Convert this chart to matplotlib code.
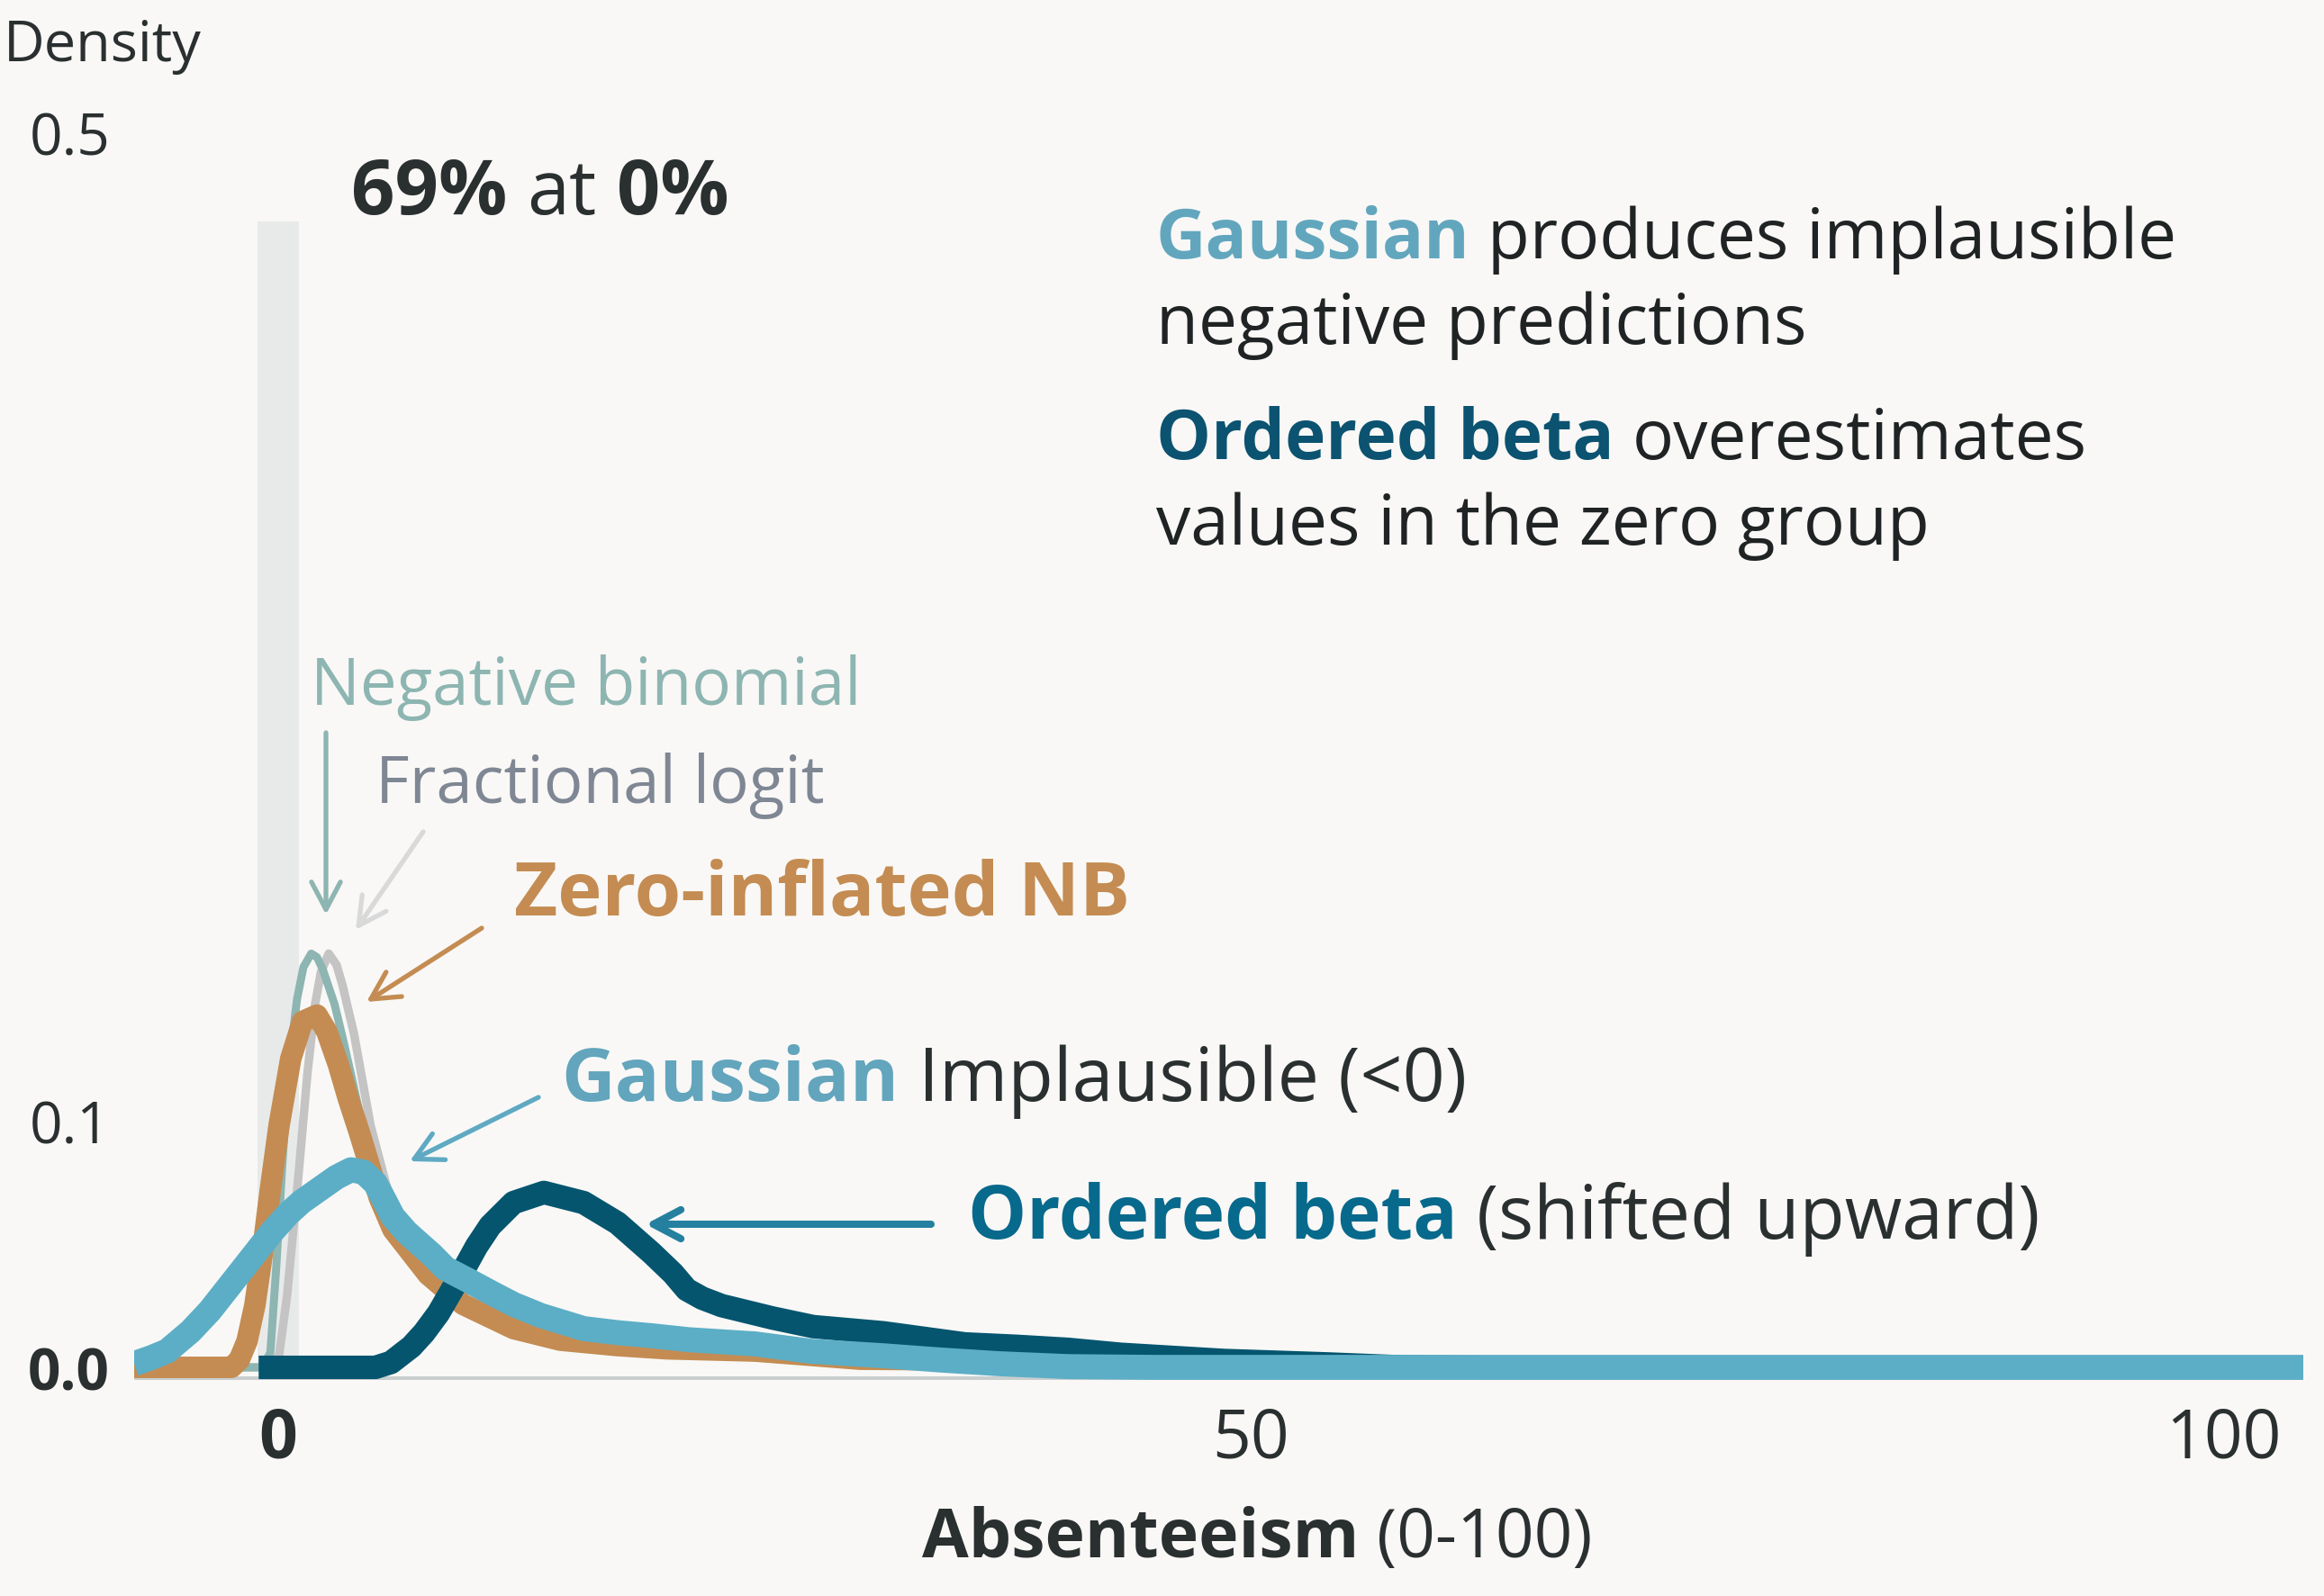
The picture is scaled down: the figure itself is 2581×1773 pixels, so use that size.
import matplotlib
matplotlib.use("Agg")
import matplotlib.pyplot as plt

# ---------------- data ----------------
gauss_x = [-7.4, -6.5, -5.7, -4.5, -3.5, -2.6, -1.8, -1.0, -0.3, 0.5, 1.2, 2.1, 3.0, 3.75, 4.4, 5.0, 5.4, 5.9,
           6.6, 7.9, 8.6, 9.7, 11.0, 12.1, 13.5, 15.7, 17.5, 19.2, 21.1, 24.5, 27.4, 31.1, 34.0, 37.0, 40.6, 45.0, 104.1]
gauss_y = [0.0015, 0.004, 0.0066, 0.0146, 0.023, 0.032, 0.040, 0.048, 0.055, 0.062, 0.067, 0.072, 0.077, 0.080,
           0.079, 0.0745, 0.0686, 0.061, 0.0547, 0.0456, 0.040, 0.0355, 0.030, 0.0255, 0.021, 0.0157, 0.014, 0.0128,
           0.0112, 0.0095, 0.0065, 0.0047, 0.003, 0.0015, 0.0003, 0.0, 0.0]

obeta_x = [-1.0, 5.0, 5.8, 6.85, 7.5, 8.24, 9.5, 10.2, 10.9, 12.1, 13.66, 15.7, 17.45, 19.2, 20.3, 21.0, 21.8,
           22.8, 25.4, 27.5, 31.1, 35.3, 38.0, 40.6, 43.3, 48.6, 53.9, 57.4, 62.0, 104.1]
obeta_y = [0.0, 0.0, 0.002, 0.0084, 0.014, 0.0219, 0.039, 0.049, 0.0573, 0.0667, 0.0708, 0.0667, 0.0584, 0.0463,
           0.038, 0.0315, 0.028, 0.025, 0.020, 0.0165, 0.014, 0.0095, 0.0085, 0.0073, 0.0053, 0.0028, 0.0014,
           0.0003, 0.0, 0.0]

zinb_x = [-7.4, -2.4, -2.0, -1.6, -1.2, -0.8, -0.4, 0.05, 0.65, 1.25, 2.0, 2.5, 3.1, 3.6, 4.2, 5.2, 5.9, 7.7,
          9.5, 12.1, 14.5, 17.45, 20.0, 24.5, 29.9, 35.0, 40.0, 45.0, 50.0, 55.0, 104.1]
zinb_y = [0.0, 0.0, 0.003, 0.0106, 0.025, 0.0467, 0.072, 0.098, 0.125, 0.140, 0.1426, 0.136, 0.1225, 0.109,
          0.0945, 0.0686, 0.0558, 0.0376, 0.0255, 0.0157, 0.011, 0.0088, 0.0075, 0.0066, 0.0033, 0.003, 0.002,
          0.001, 0.0003, 0.0, 0.0]

negbin_x = [-7.4, -0.8, -0.4, -0.1, 0.2, 0.45, 0.65, 0.97, 1.3, 1.7, 2.0, 2.3, 2.9, 3.3, 3.75, 4.3, 5.0, 5.6,
            6.25, 7.7, 9.7, 12.1, 14.8, 17.5, 21.0, 26.3, 35.0, 45.0, 55.0, 104.1]
negbin_y = [0.0, 0.0, 0.006, 0.04, 0.08, 0.11, 0.128, 0.149, 0.162, 0.1675, 0.166, 0.161, 0.147, 0.134, 0.1185,
            0.099, 0.0806, 0.064, 0.05, 0.035, 0.022, 0.013, 0.0098, 0.0075, 0.006, 0.003, 0.0022, 0.0008, 0.0, 0.0]

froglogit_x = [-7.4, -0.5, 0.05, 0.46, 1.06, 1.5, 1.9, 2.2, 2.6, 3.0, 3.3, 3.9, 4.75, 5.6, 6.5, 7.7, 9.7, 12.1,
               17.0, 24.0, 30.0, 40.0, 50.0, 60.0, 104.1]
froglogit_y = [0.0, 0.0, 0.005, 0.029, 0.079, 0.1185, 0.147, 0.160, 0.1675, 0.163, 0.155, 0.135, 0.098, 0.0726,
               0.055, 0.038, 0.024, 0.015, 0.009, 0.005, 0.003, 0.0015, 0.0005, 0.0, 0.0]

zero_bar_x = 0
zero_bar_top = 0.464

x_ticks = [0, 50, 100]
x_ticklabels = ["0", "50", "100"]
y_ticks = [0.0, 0.1, 0.5]
y_ticklabels = ["0.0", "0.1", "0.5"]

# ---------------- style ----------------
W, H, DPI = 2581, 1774, 200
BG = "#f9f8f6"
DARK = "#2a2f30"
INK = "#1f2323"
C_GAUSS = "#5caec6"
C_OBETA = "#05556f"
C_ZINB = "#c48c52"
C_NB = "#8db5b2"
C_FL = "#c4c4c4"

plt.rcParams["font.family"] = ["Open Sans", "DejaVu Sans"]

fig = plt.figure(figsize=(W / DPI, H / DPI), dpi=DPI, facecolor=BG)
ax = fig.add_axes([149 / W, 1 - 1534 / H, (2558 - 149) / W, (1534 - 93) / H])
ax.set_facecolor(BG)
ax.set_xlim(-7.4, 104.1)
ax.set_ylim(-0.0051, 0.520)
for s in ax.spines.values():
    s.set_visible(False)

ax.bar(zero_bar_x, zero_bar_top, width=2.1, bottom=0, color="#e8eaea", zorder=1)
ax.axhline(-0.0042, color="#c9cecf", lw=1.8, zorder=1.5)

common = dict(solid_capstyle="butt", solid_joinstyle="round")
ax.plot(froglogit_x, froglogit_y, color=C_FL, lw=3.4, zorder=2.0, **common)
ax.plot(negbin_x, negbin_y, color=C_NB, lw=3.2, zorder=2.1, **common)
ax.plot(zinb_x, zinb_y, color=C_ZINB, lw=8.6, zorder=2.2, **common)
ax.plot(obeta_x, obeta_y, color=C_OBETA, lw=9.4, zorder=2.3, **common)
ax.plot(gauss_x, gauss_y, color=C_GAUSS, lw=10.0, zorder=2.4, **common)

ax.set_xticks(x_ticks)
ax.set_xticklabels(x_ticklabels)
ax.set_yticks(y_ticks)
ax.set_yticklabels(y_ticklabels)
ax.tick_params(axis="x", length=0, pad=10.4, labelsize=27, labelcolor=DARK)
ax.tick_params(axis="y", length=0, pad=9.7, labelsize=23, labelcolor=DARK)
ax.get_xticklabels()[0].set_fontweight("bold")
ax.get_yticklabels()[0].set_fontweight("bold")

renderer = fig.canvas.get_renderer()


def fx(px):
    return px / W


def fy(py):
    return 1 - py / H


def space_width(size, weight):
    a = fig.text(0, 0, "xx", fontsize=size, fontweight=weight)
    b = fig.text(0, 0, "x x", fontsize=size, fontweight=weight)
    w = b.get_window_extent(renderer).width - a.get_window_extent(renderer).width
    a.remove(); b.remove()
    return w


def rich(x_px, y_px, parts, size):
    x = x_px
    for i, (txt, weight, color) in enumerate(parts):
        if i > 0:
            x += space_width(size, "normal")
        t = fig.text(fx(x), fy(y_px), txt, fontsize=size, fontweight=weight, color=color,
                     ha="left", va="baseline")
        x += t.get_window_extent(renderer).width
    return x


# axis titles
fig.text(fx(4), fy(68), "Density", fontsize=22.7, color=DARK, ha="left", va="baseline")
rich(1024, 1730, [("Absenteeism", "bold", DARK), ("(0-100)", "normal", DARK)], 27)

# top annotation
rich(390, 238, [("69%", "bold", DARK), ("at", "normal", DARK), ("0%", "bold", DARK)], 30.5)

# right-hand notes
rich(1284, 287, [("Gaussian", "bold", "#62a6be"), ("produces implausible", "normal", INK)], 27.6)
rich(1284, 382, [("negative predictions", "normal", INK)], 27.6)
rich(1284, 510, [("Ordered beta", "bold", "#0b5370"), ("overestimates", "normal", INK)], 27.6)
rich(1284, 605, [("values in the zero group", "normal", INK)], 27.6)

# series labels
rich(345, 783, [("Negative binomial", "normal", "#8db5b1")], 26.2)
rich(417, 892, [("Fractional logit", "normal", "#7f8794")], 26.2)
rich(571, 1017, [("Zero-inflated NB", "bold", C_ZINB)], 30)
rich(623, 1223, [("Gaussian", "bold", "#62a5bd"), ("Implausible (<0)", "normal", DARK)], 29.7)
rich(1075, 1376, [("Ordered beta", "bold", "#07698c"), ("(shifted upward)", "normal", DARK)], 29.5)


def arrow(tail, head, color, lw=1.9):
    fig.add_artist(matplotlib.patches.FancyArrowPatch(
        (fx(tail[0]), fy(tail[1])), (fx(head[0]), fy(head[1])), transform=fig.transFigure,
        arrowstyle="->,head_length=1.1,head_width=0.58", mutation_scale=10,
        color=color, lw=lw, capstyle="round", joinstyle="round", shrinkA=0, shrinkB=0, zorder=5))


arrow((362, 815), (362, 1017), "#8db5b1")
arrow((470, 925), (395, 1034), "#d9d9d9")
arrow((535, 1032), (407, 1114), C_ZINB)
arrow((598, 1220), (455, 1291), "#5fa9c3")
arrow((1034, 1361), (717, 1361), "#2580a0", lw=2.9)

fig.savefig("out.png", dpi=DPI, facecolor=BG)
